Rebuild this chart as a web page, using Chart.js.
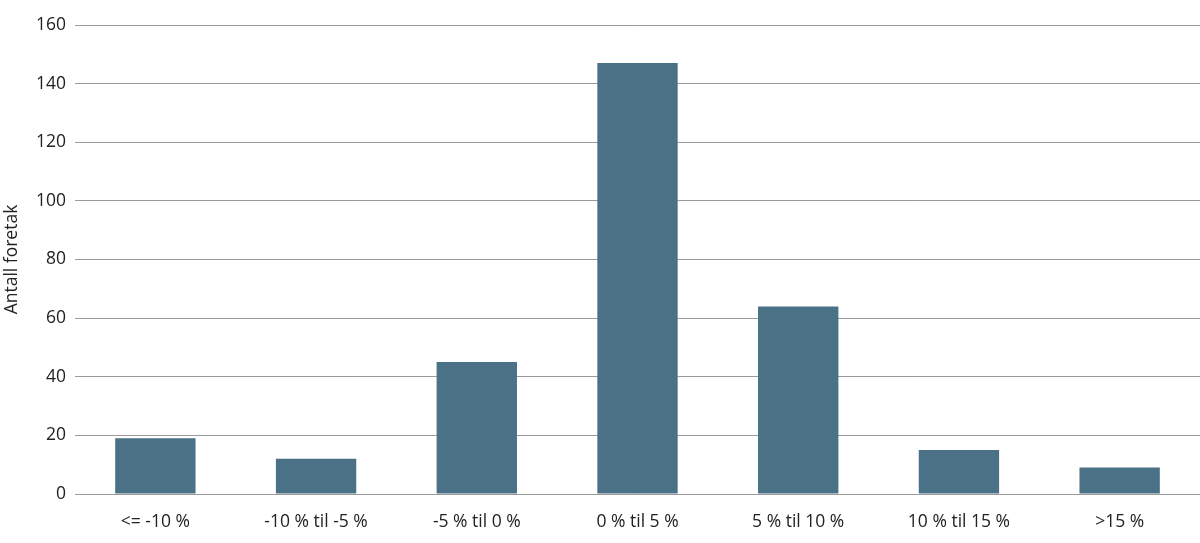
<!DOCTYPE html>
<html lang="no">
<head>
    <meta charset="UTF-8">
    <title>Antall foretak</title>
    <script src="https://cdn.jsdelivr.net/npm/chart.js@4.4.1/dist/chart.umd.min.js"></script>
    <style>
        html, body {
            margin: 0;
            padding: 0;
            background: #fff;
        }
        #wrap {
            width: 1200px;
            height: 543px;
        }
    </style>
</head>
<body>
    <div id="wrap">
        <canvas id="myChart"></canvas>
    </div>

    <script>
        const categories = ['<= -10 %', '-10 % til -5 %', '-5 % til 0 %', '0 % til 5 %', '5 % til 10 %', '10 % til 15 %', '>15 %'];
        const counts = [19, 12, 45, 147, 64, 15, 9];
        const yTicks = [0, 20, 40, 60, 80, 100, 120, 140, 160];

        const font = { family: "'Open Sans', sans-serif", size: 17.5 };

        const ctx = document.getElementById('myChart').getContext('2d');
        new Chart(ctx, {
            type: 'bar',
            data: {
                labels: categories,
                datasets: [{
                    label: 'Antall foretak',
                    data: counts,
                    backgroundColor: '#4b7186',
                    categoryPercentage: 1,
                    barPercentage: 0.5
                }]
            },
            options: {
                responsive: true,
                maintainAspectRatio: false,
                animation: false,
                layout: { padding: { top: 25, right: 0, left: 2, bottom: 0 } },
                plugins: {
                    legend: { display: false },
                    tooltip: { enabled: false }
                },
                scales: {
                    x: {
                        grid: { display: false },
                        border: { display: false },
                        ticks: { color: '#222', font: font, padding: 10, maxRotation: 0 }
                    },
                    y: {
                        min: 0,
                        max: 160,
                        afterBuildTicks: axis => { axis.ticks = yTicks.map(v => ({ value: v })); },
                        grid: { color: '#9a9a9a', lineWidth: 1, drawTicks: false },
                        border: { display: false },
                        ticks: { color: '#222', font: font, padding: 9 },
                        title: { display: true, text: 'Antall foretak', color: '#222', font: font, padding: { top: 0, bottom: 4 } }
                    }
                }
            }
        });
    </script>
</body>
</html>
